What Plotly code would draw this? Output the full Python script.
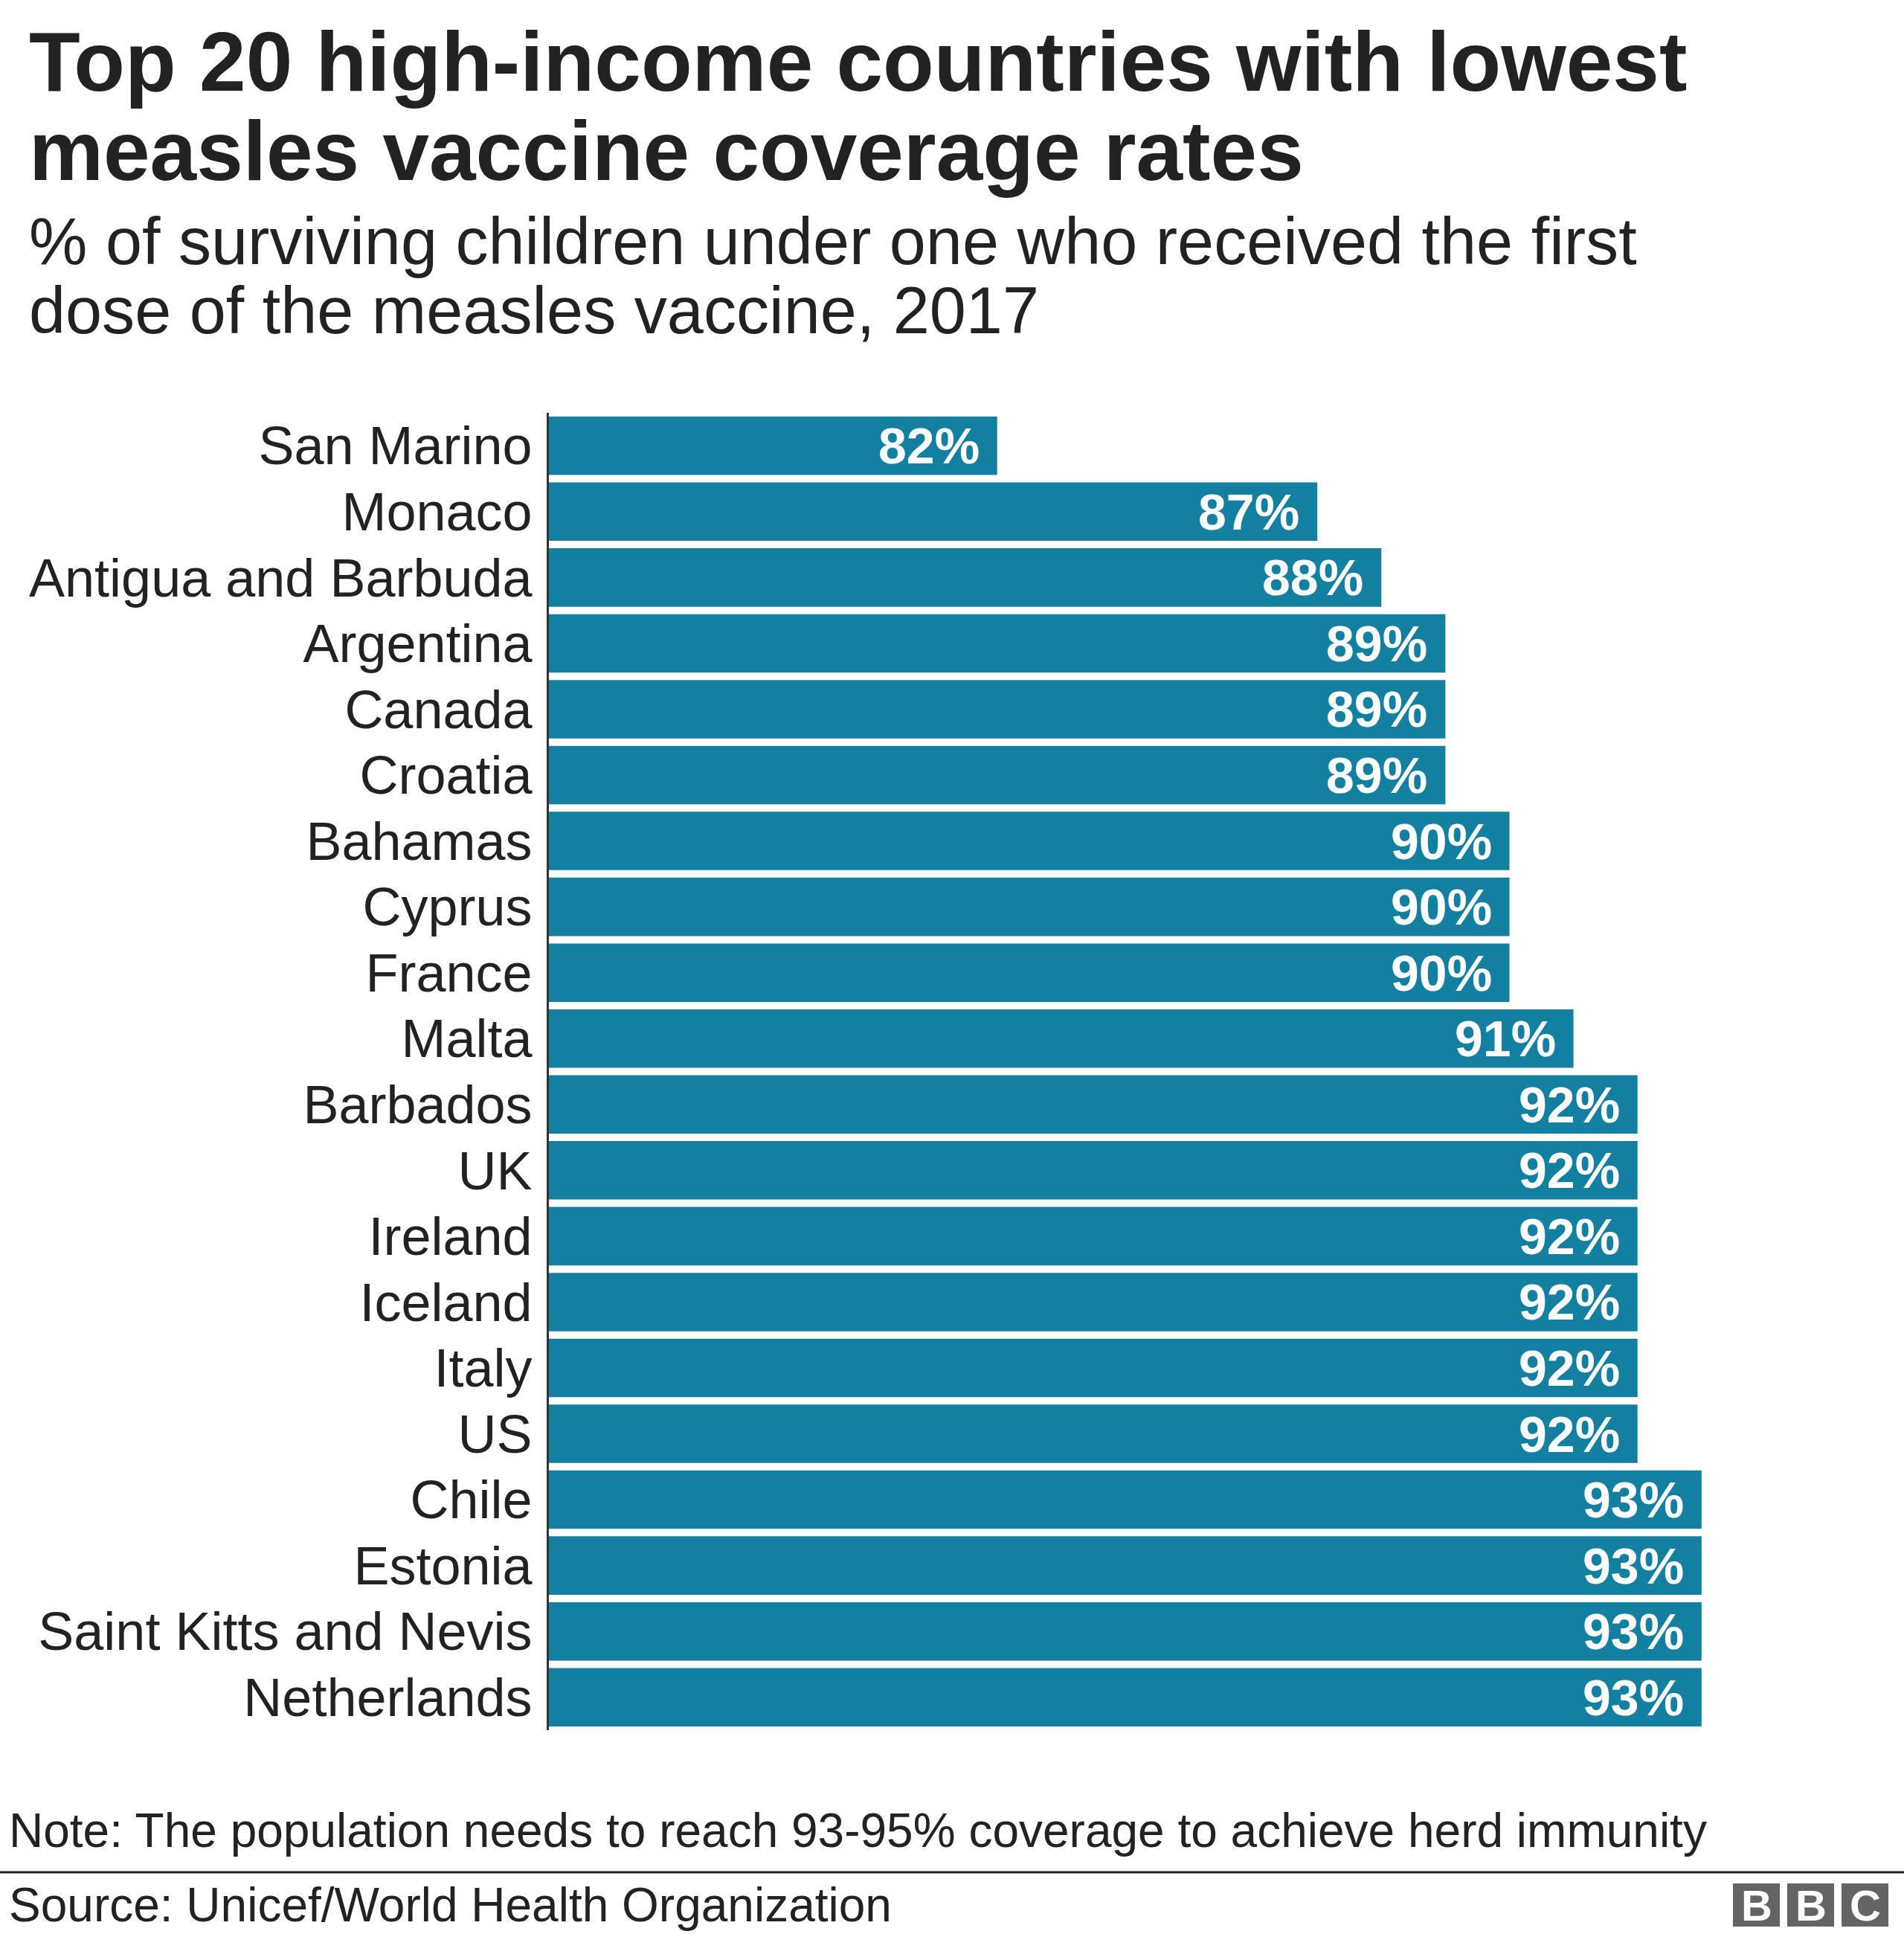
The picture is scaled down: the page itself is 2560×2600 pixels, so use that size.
import plotly.graph_objects as go

countries = ["San Marino", "Monaco", "Antigua and Barbuda", "Argentina", "Canada",
             "Croatia", "Bahamas", "Cyprus", "France", "Malta", "Barbados", "UK",
             "Ireland", "Iceland", "Italy", "US", "Chile", "Estonia",
             "Saint Kitts and Nevis", "Netherlands"]
coverage = [82, 87, 88, 89, 89, 89, 90, 90, 90, 91, 92, 92, 92, 92, 92, 92, 93, 93, 93, 93]
value_labels = [f"{v}%" for v in coverage]

title_lines = ["Top 20 high-income countries with lowest", "measles vaccine coverage rates"]
subtitle_lines = ["% of surviving children under one who received the first",
                  "dose of the measles vaccine, 2017"]
note_text = "Note: The population needs to reach 93-95% coverage to achieve herd immunity"
source_text = "Source: Unicef/World Health Organization"

W, H = 2560, 2600
L, R_EDGE = 738, 2460
TOP, BOT = 555, 2326
PW, PH = R_EDGE - L, BOT - TOP

def px(x):
    return (x - L) / PW

def py(y):
    return (BOT - y) / PH

FONT = "Liberation Sans, Arial, Helvetica, sans-serif"
BAR = "#1380A1"
TXT = "#222222"

fig = go.Figure()
fig.add_trace(go.Bar(
    x=coverage, y=countries, orientation="h",
    marker=dict(color=BAR, line=dict(width=0)),
    hoverinfo="skip",
))

annotations = []
for c, v, t in zip(countries, coverage, value_labels):
    annotations.append(dict(
        x=v, y=c, xref="x", yref="y", text=t, showarrow=False,
        xanchor="right", yanchor="middle", xshift=-22,
        font=dict(family=FONT, size=68, color="white", weight="bold"),
    ))

def add_text(text, x, ycenter, size, bold=False, color=TXT, anchor="left"):
    annotations.append(dict(
        x=px(x), y=py(ycenter), xref="paper", yref="paper", text=text,
        showarrow=False, xanchor=anchor, yanchor="middle",
        font=dict(family=FONT, size=size, color=color, weight="bold" if bold else "normal"),
    ))

add_text(title_lines[0], 37, 122 - 0.35 * 112, 112.5, bold=True)
add_text(title_lines[1], 37, 242 - 0.35 * 112, 112.5, bold=True)
add_text(subtitle_lines[0], 37, 355 - 0.35 * 88, 88.2)
add_text(subtitle_lines[1], 37, 448 - 0.35 * 88, 88.2)
add_text(note_text, 10, 2483 - 0.35 * 64, 64)
add_text(source_text, 10, 2583 - 0.35 * 64, 64)

shapes = [dict(type="line", xref="paper", yref="paper",
               x0=px(0), x1=px(W), y0=py(2517), y1=py(2517),
               line=dict(color="#222222", width=3))]

bbc_boxes = [(2330, 2393), (2403, 2466), (2476, 2539)]
for (x0, x1), letter in zip(bbc_boxes, ["B", "B", "C"]):
    shapes.append(dict(type="rect", xref="paper", yref="paper",
                       x0=px(x0), x1=px(x1), y0=py(2590), y1=py(2532),
                       fillcolor="#646464", line=dict(width=0)))
    annotations.append(dict(
        x=px((x0 + x1) / 2), y=py(2561), xref="paper", yref="paper", text=letter,
        showarrow=False, xanchor="center", yanchor="middle",
        font=dict(family=FONT, size=58, color="white", weight="bold"),
    ))

fig.update_layout(
    width=W, height=H,
    margin=dict(l=L, r=W - R_EDGE, t=TOP, b=H - BOT, pad=0),
    paper_bgcolor="white", plot_bgcolor="white",
    showlegend=False,
    bargap=0.113,
    annotations=annotations,
    shapes=shapes,
    xaxis=dict(range=[75, 95], visible=False, fixedrange=True),
    yaxis=dict(autorange="reversed", showline=True, linecolor="#333333", linewidth=3,
               ticks="", ticklabelstandoff=5, showgrid=False, zeroline=False,
               tickfont=dict(family=FONT, size=72, color=TXT)),
)

fig.write_html("out.html")
